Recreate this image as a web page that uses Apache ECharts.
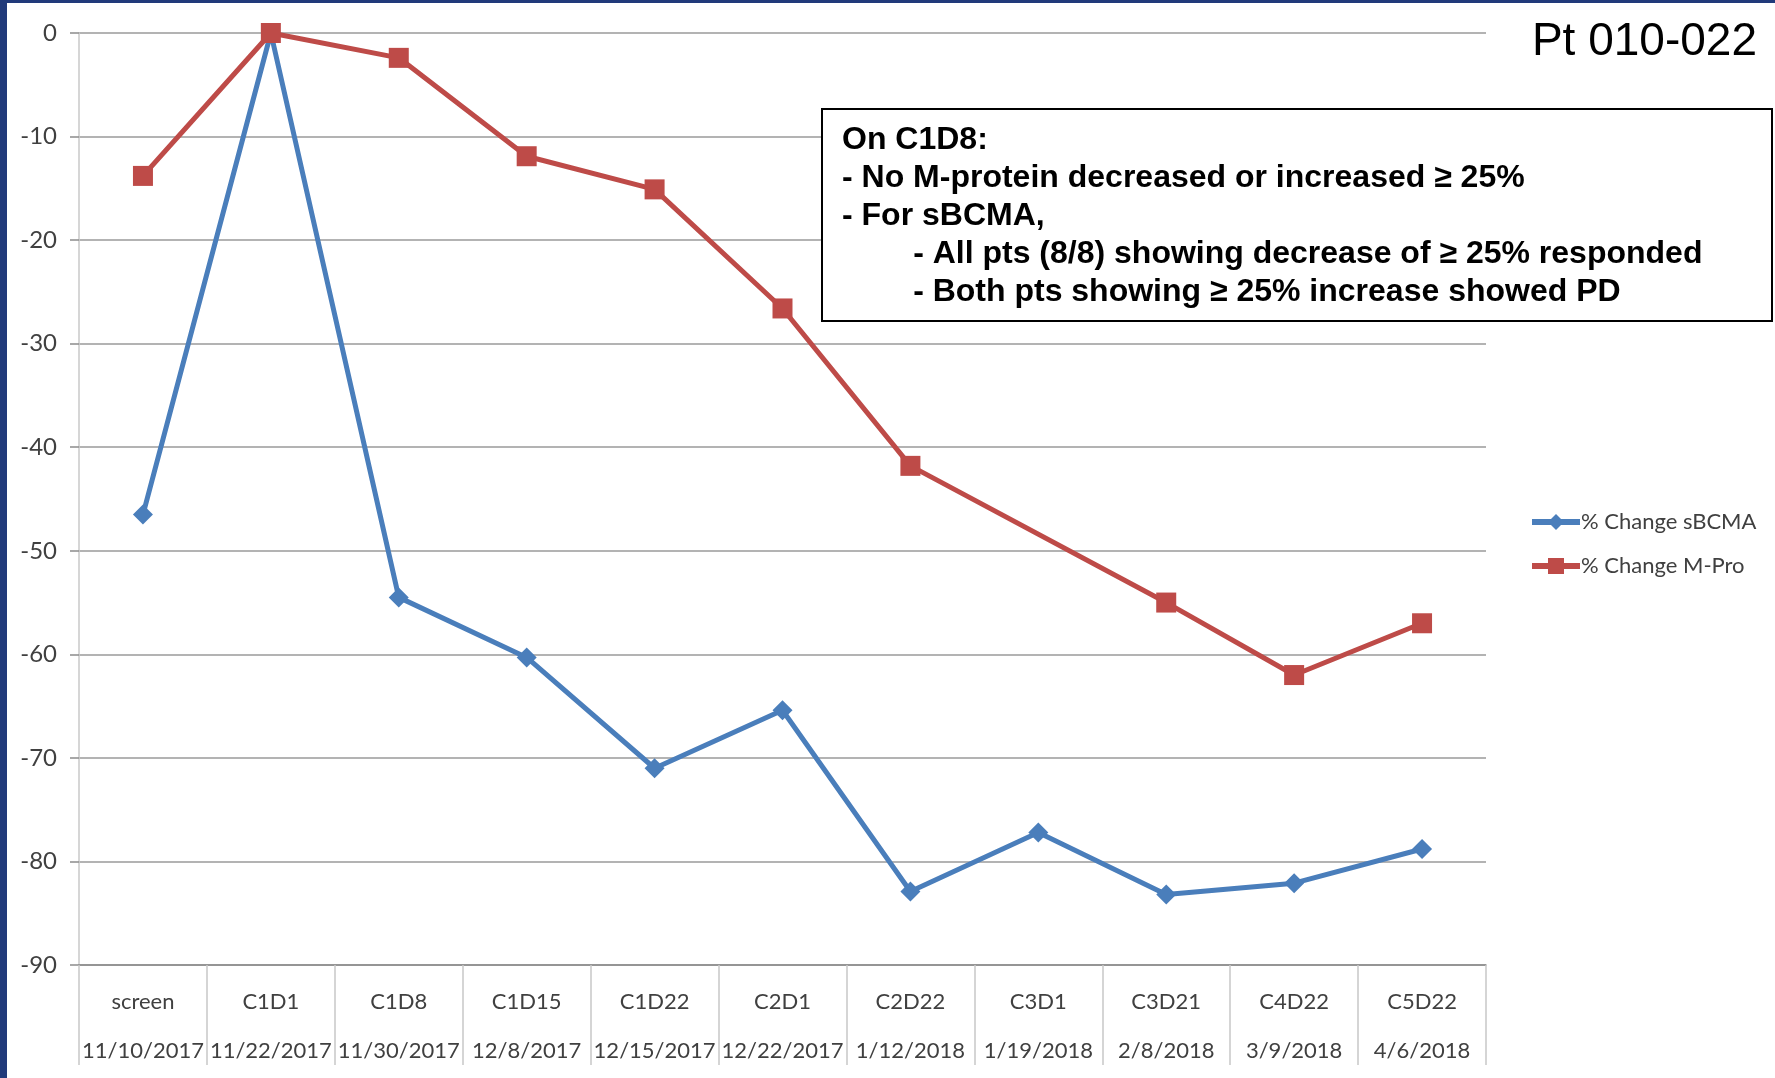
<!DOCTYPE html>
<html>
<head>
<meta charset="utf-8">
<script src="https://cdn.jsdelivr.net/npm/echarts@6/dist/echarts.min.js"></script>
<style>
  html, body { margin: 0; padding: 0; background: #ffffff; }
  #chart { width: 1775px; height: 1078px; }
</style>
</head>
<body>
<div id="chart"></div>
<script>
// Visit names and dates along the category axis
const visits = ['screen', 'C1D1', 'C1D8', 'C1D15', 'C1D22', 'C2D1', 'C2D22', 'C3D1', 'C3D21', 'C4D22', 'C5D22'];
const visitDates = ['11/10/2017', '11/22/2017', '11/30/2017', '12/8/2017', '12/15/2017', '12/22/2017',
                    '1/12/2018', '1/19/2018', '2/8/2018', '3/9/2018', '4/6/2018'];

// Percent change from C1D1 baseline
const sBCMA = [-46.5, 0, -54.5, -60.3, -71.0, -65.4, -82.9, -77.2, -83.2, -82.1, -78.8];
const mPro  = [-13.8, 0, -2.4, -11.9, -15.1, -26.6, -41.8, null, -55.0, -62.0, -57.0];

const yMin = -90, yMax = 0, yStep = 10;

const noteLines = [
  'On C1D8:',
  '- No M-protein decreased or increased \u2265 25%',
  '- For sBCMA,',
  '        - All pts (8/8) showing decrease of \u2265 25% responded',
  '        - Both pts showing \u2265 25% increase showed PD'
];

const categories = visits.map((v, i) => v + '\n' + visitDates[i]);

const labelFont = "Lato, 'Liberation Sans', sans-serif";

const chart = echarts.init(document.getElementById('chart'), null, { renderer: 'canvas' });

chart.setOption({
  backgroundColor: '#ffffff',
  animation: false,
  title: {
    text: 'Pt 010-022',
    right: 13,
    top: 14,
    textStyle: {
      fontFamily: "'Liberation Sans', Arial, sans-serif",
      fontWeight: 'normal',
      fontSize: 46,
      color: '#000000'
    }
  },
  legend: {
    orient: 'vertical',
    left: 1524,
    top: 506,
    itemWidth: 48,
    itemHeight: 20,
    itemGap: 22,
    lineStyle: { width: 6 },
    textStyle: {
      fontFamily: labelFont,
      fontSize: 22,
      color: '#404040',
      padding: [0, 0, 0, -4]
    },
    data: ['% Change sBCMA', '% Change M-Pro']
  },
  grid: {
    left: 79,
    top: 33,
    width: 1407,
    height: 932,
    containLabel: false
  },
  xAxis: {
    type: 'category',
    data: categories,
    boundaryGap: true,
    axisLine: { show: true, onZero: false, lineStyle: { color: '#8c8c8c', width: 1.5 } },
    axisTick: {
      show: true,
      interval: 0,
      length: 100,
      lineStyle: { color: '#c8c8c8', width: 1.5 }
    },
    axisLabel: {
      interval: 0,
      margin: 12,
      fontFamily: labelFont,
      fontSize: 22,
      lineHeight: 49,
      color: '#404040'
    },
    splitLine: { show: false }
  },
  yAxis: {
    type: 'value',
    min: yMin,
    max: yMax,
    interval: yStep,
    axisLine: { show: true, lineStyle: { color: '#c8c8c8', width: 1.5 } },
    axisTick: { show: true, length: 9, lineStyle: { color: '#8c8c8c', width: 1.5 } },
    axisLabel: {
      margin: 22,
      fontFamily: labelFont,
      fontSize: 24,
      color: '#404040'
    },
    splitLine: { show: true, lineStyle: { color: '#9a9a9a', width: 1.5 } }
  },
  graphic: [
    { type: 'rect', shape: { x: 0, y: 0, width: 7, height: 1078 }, style: { fill: '#213a7a' }, z: 100 },
    { type: 'rect', shape: { x: 0, y: 0, width: 1775, height: 3 }, style: { fill: '#213a7a' }, z: 100 },
    {
      type: 'rect',
      shape: { x: 822, y: 109, width: 950, height: 212 },
      style: { fill: '#ffffff', stroke: '#000000', lineWidth: 2 },
      z: 50
    },
    {
      type: 'text',
      x: 842,
      y: 121,
      z: 51,
      style: {
        text: noteLines.join('\n'),
        fontFamily: "'Liberation Sans', Arial, sans-serif",
        fontWeight: 'bold',
        fontSize: 32,
        lineHeight: 38,
        fill: '#000000'
      }
    }
  ],
  series: [
    {
      name: '% Change sBCMA',
      type: 'line',
      data: sBCMA,
      symbol: 'diamond',
      symbolSize: 20,
      lineStyle: { color: '#4a7ebb', width: 5 },
      itemStyle: { color: '#4a7ebb' },
      z: 3
    },
    {
      name: '% Change M-Pro',
      type: 'line',
      data: mPro,
      connectNulls: true,
      symbol: 'rect',
      symbolSize: 20,
      lineStyle: { color: '#be4b48', width: 5 },
      itemStyle: { color: '#be4b48' },
      z: 4
    }
  ]
});
</script>
</body>
</html>
